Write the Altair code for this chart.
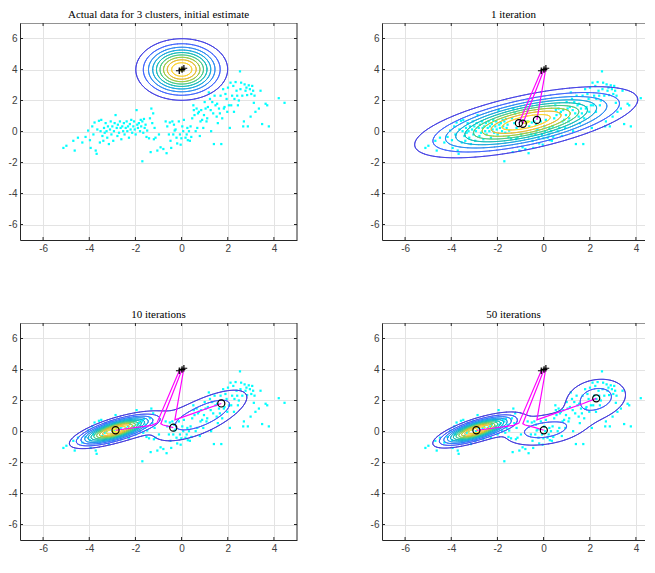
import numpy as np
import pandas as pd
import altair as alt

# ---------------- scatter data (same in every panel) ----------------
data_x = [-5.12,-4.99,-4.69,-4.63,-4.49,-4.30,-4.16,-4.05,-3.97,-3.94,-3.87,-3.82,-3.77,-3.72,-3.68,-3.65,-3.58,-3.54,-3.51,-3.48,
          -3.43,-3.39,-3.36,-3.33,-3.29,-3.25,-3.22,-3.19,-3.15,-3.10,-3.07,-3.04,-3.00,-2.96,-2.93,-2.90,-2.86,-2.81,-2.78,-2.76,
          -2.71,-2.67,-2.64,-2.61,-2.57,-2.53,-2.50,-2.47,-2.42,-2.38,-2.35,-2.32,-2.28,-2.24,-2.21,-2.18,-2.14,-2.09,-2.06,-2.03,
          -1.99,-1.95,-1.92,-1.89,-1.85,-1.80,-1.77,-1.75,-1.70,-1.66,-1.63,-1.60,-1.56,-1.52,-1.49,-1.41,-1.37,-1.34,-1.31,-1.27,
          -1.23,-1.20,-1.17,-1.13,-1.05,-0.98,-0.91,-0.79,-0.69,-0.65,-0.62,-0.55,-0.51,-0.48,-0.45,-0.40,-0.36,-0.33,-0.30,-0.26,
          -0.22,-0.19,-0.12,-0.07,-0.04,-0.01,0.03,0.07,0.10,0.17,0.22,0.25,0.27,0.32,0.36,0.39,0.42,0.46,0.51,0.53,
          0.56,0.61,0.65,0.68,0.71,0.75,0.79,0.82,0.85,0.89,0.94,0.97,1.00,1.04,1.08,1.11,1.14,1.18,1.23,1.26,
          1.28,1.33,1.37,1.40,1.43,1.47,1.52,1.54,1.57,1.62,1.66,1.69,1.72,1.76,1.80,1.83,1.86,1.90,1.95,1.98,
          2.01,2.05,2.09,2.12,2.15,2.19,2.24,2.27,2.29,2.34,2.38,2.41,2.44,2.48,2.53,2.55,2.58,2.63,2.67,2.70,
          2.73,2.77,2.81,2.84,2.87,2.91,2.96,2.99,3.02,3.06,3.10,3.13,3.16,3.20,3.35,3.42,3.49,3.64,3.71,3.78,
          4.21,4.46,-1.70]
data_y = [-1.06,-0.92,-0.60,-1.23,-0.40,-0.71,-0.35,0.06,-0.56,-1.06,0.33,-0.19,0.58,-1.23,-1.44,0.13,0.69,-0.71,0.02,0.75,
          -0.29,-0.60,0.23,-0.08,0.54,0.02,-0.40,0.33,-0.81,0.13,0.65,-0.19,0.33,-0.60,0.02,0.54,1.06,0.23,-0.29,0.44,
          -0.08,0.65,0.23,-0.50,0.33,0.02,0.54,-0.19,0.23,0.65,0.02,0.33,-0.40,0.48,0.13,0.75,-0.08,0.33,0.65,0.13,
          -0.19,1.38,0.44,0.23,0.54,0.02,0.75,0.33,0.65,-0.08,0.81,0.23,0.44,-0.35,0.06,-0.44,0.85,-1.33,1.48,0.54,
          1.17,-0.50,0.23,-0.40,-1.23,-0.19,-1.02,-1.13,0.65,-1.40,0.33,-0.19,0.58,-0.60,-1.06,0.65,-0.19,0.44,0.06,0.13,
          -0.40,-0.77,0.65,-0.19,-0.85,-0.44,0.33,0.02,0.75,-0.40,-0.19,0.23,-0.56,0.02,-0.60,0.33,-0.35,0.85,1.69,1.38,
          1.06,0.02,1.48,0.23,1.17,1.27,-0.29,0.65,1.38,0.75,0.23,1.06,1.90,1.48,0.65,0.85,1.58,2.52,2.10,1.38,
          0.02,1.90,1.17,-0.81,2.31,1.69,0.96,1.79,0.54,1.48,1.17,2.31,-0.81,0.85,2.73,1.48,1.58,2.42,2.10,1.27,
          2.83,1.69,0.23,3.15,1.69,2.31,2.94,1.27,2.10,3.19,2.63,2.31,1.69,2.00,3.88,2.73,3.15,2.31,0.33,0.65,
          3.04,2.63,2.83,2.35,0.33,2.98,2.73,0.96,2.42,2.94,2.63,1.85,2.31,1.27,1.48,2.63,0.48,1.79,1.69,0.33,
          2.15,1.85,-1.92]

# ---------------- panels ----------------
titles = ["Actual data for 3 clusters, initial estimate", "1 iteration", "10 iterations", "50 iterations"]
panel_iter = [0, 1, 10, 50]
x_ticks = [-6, -4, -2, 0, 2, 4]
y_ticks = [-6, -4, -2, 0, 2, 4, 6]

# initial means (+ markers)
start_x = [-0.10, 0.02, 0.10]
start_y = [3.92, 4.00, 4.08]

# mean trajectories: iteration number, x, y for each component
traj_iter = [0, 1, 2, 10, 50]
trajA_x = [-0.10, -1.07, -1.30, -2.86, -2.91]
trajA_y = [3.92, 0.54, 0.40, 0.08, 0.08]
trajB_x = [0.02, -0.90, -0.80, -0.36, 0.01]
trajB_y = [4.00, 0.50, 0.42, 0.25, 0.08]
trajC_x = [0.10, -0.29, -0.20, 1.72, 2.28]
trajC_y = [4.08, 0.75, 0.80, 1.81, 2.14]

# mixture components drawn as contours: weight, mean x, mean y, var x, cov xy, var y
comps_p1 = [(1/3, -0.10, 3.92, 0.85, 0.0, 0.85), (1/3, 0.02, 4.00, 0.85, 0.0, 0.85), (1/3, 0.10, 4.08, 0.85, 0.0, 0.85)]
comps_p2 = [(1/3, -1.07, 0.54, 4.95, 1.48, 1.13), (1/3, -0.90, 0.50, 4.95, 1.48, 1.13), (1/3, -0.29, 0.75, 4.95, 1.48, 1.13)]
comps_p3 = [(0.55, -2.86, 0.08, 0.80, 0.34, 0.28), (0.15, -0.36, 0.25, 2.00, 0.60, 1.00), (0.30, 1.20, 1.28, 1.424, 0.830, 1.039)]
comps_p4 = [(0.46, -2.91, 0.08, 0.72, 0.32, 0.266), (0.27, 0.01, 0.08, 1.50, 0.25, 0.50), (0.27, 2.28, 2.14, 0.85, 0.15, 0.80)]
level_step = [0.0185, 0.0085, 0.022, 0.0206]

# parula colormap stops
parula = [(0.2422,0.1504,0.6603),(0.2706,0.2147,0.8364),(0.2813,0.3006,0.9414),(0.2699,0.3892,0.9906),
          (0.1963,0.4847,0.9892),(0.1687,0.5703,0.9359),(0.1248,0.6459,0.8883),(0.0297,0.7082,0.8163),
          (0.0964,0.7500,0.7120),(0.2161,0.7843,0.5923),(0.3909,0.8029,0.4354),(0.6174,0.7876,0.2612),
          (0.8203,0.7498,0.1535),(0.9728,0.7298,0.2394),(0.9892,0.8136,0.1885),(0.9597,0.9135,0.1423),
          (0.9769,0.9839,0.0805)]
parula_pos = [0,4,8,12,16,20,24,28,32,36,40,44,48,52,56,60,63]


def parula_hex(f):
    p = np.clip(f, 0, 1) * 63
    pos = np.array(parula_pos, float)
    cols = np.array(parula)
    rgb = [np.interp(p, pos, cols[:, k]) for k in range(3)]
    return "#%02x%02x%02x" % tuple(int(round(c * 255)) for c in rgb)


def mixture(X, Y, comps):
    Z = np.zeros_like(X)
    for w, mx, my, sxx, sxy, syy in comps:
        det = sxx * syy - sxy ** 2
        dx, dy = X - mx, Y - my
        q = (syy * dx * dx - 2 * sxy * dx * dy + sxx * dy * dy) / det
        Z += w / (2 * np.pi * np.sqrt(det)) * np.exp(-q / 2)
    return Z


def march(Z, xs, ys, L):
    A = Z >= L
    z00, z10, z01, z11 = Z[:-1, :-1], Z[:-1, 1:], Z[1:, :-1], Z[1:, 1:]
    a00, a10, a01, a11 = A[:-1, :-1], A[:-1, 1:], A[1:, :-1], A[1:, 1:]
    shp = z00.shape
    X0 = np.broadcast_to(xs[:-1][None, :], shp)
    X1 = np.broadcast_to(xs[1:][None, :], shp)
    Y0 = np.broadcast_to(ys[:-1][:, None], shp)
    Y1 = np.broadcast_to(ys[1:][:, None], shp)

    def t(a, b):
        d = b - a
        d = np.where(d == 0, 1e-30, d)
        return (L - a) / d

    m = np.stack([a00 != a10, a10 != a11, a01 != a11, a00 != a01])
    px = np.stack([X0 + t(z00, z10) * (X1 - X0), X1, X0 + t(z01, z11) * (X1 - X0), X0])
    py = np.stack([Y0, Y0 + t(z10, z11) * (Y1 - Y0), Y1, Y0 + t(z00, z01) * (Y1 - Y0)])
    n = m.sum(0)
    out = []
    sel = n == 2
    if sel.any():
        mm = m[:, sel]
        order = np.argsort(~mm, axis=0, kind="stable")
        k = np.arange(mm.shape[1])
        pxs, pys = px[:, sel], py[:, sel]
        out.append(np.stack([pxs[order[0], k], pys[order[0], k], pxs[order[1], k], pys[order[1], k]], 1))
    sel4 = n == 4
    if sel4.any():
        pxs, pys = px[:, sel4], py[:, sel4]
        cen = ((z00 + z10 + z01 + z11) / 4)[sel4] >= L
        same = a00[sel4] == cen
        for i in range(pxs.shape[1]):
            pairs = [(0, 1), (2, 3)] if same[i] else [(0, 3), (1, 2)]
            for a, b in pairs:
                out.append(np.array([[pxs[a, i], pys[a, i], pxs[b, i], pys[b, i]]]))
    if not out:
        return np.zeros((0, 4))
    return np.concatenate(out, 0)


gx = np.arange(-7, 5.0001, 0.05)
gy = np.arange(-4, 7.0001, 0.05)
GX, GY = np.meshgrid(gx, gy)

H = 217
W_LEFT = 277
W_RIGHT = 263
X_MAX_LEFT = 5
X_MAX_RIGHT = -7 + 12 * W_RIGHT / W_LEFT   # same units-per-pixel as the left column
BOX = "#262626"

yscale = alt.Scale(domain=[-7, 7], nice=False, zero=False)
lab = "toString(datum.value)"
xaxis = alt.Axis(values=x_ticks, title=None, labelOverlap=False, labelExpr=lab)
yaxis = alt.Axis(values=y_ticks, title=None, labelOverlap=False, labelExpr=lab)

scatter_df = pd.DataFrame({"x": data_x, "y": data_y})
start_df = pd.DataFrame({"x": start_x, "y": start_y})
xt_df = pd.DataFrame({"v": x_ticks})
yt_df = pd.DataFrame({"v": y_ticks})
all_comps = [comps_p1, comps_p2, comps_p3, comps_p4]


def make_panel(p):
    right = p in (1, 3)
    width = W_RIGHT if right else W_LEFT
    xscale = alt.Scale(domain=[-7, X_MAX_RIGHT if right else X_MAX_LEFT], nice=False, zero=False)
    X = lambda f: alt.X(f, scale=xscale, axis=xaxis)
    Y = lambda f: alt.Y(f, scale=yscale, axis=yaxis)

    base_sc = alt.Chart(scatter_df).mark_square(size=5, color="#00ffff", opacity=1, clip=True).encode(
        x=X("x:Q"), y=Y("y:Q"))
    Z = mixture(GX, GY, all_comps[p])
    zmax = Z.max()
    rows = []
    k = 1
    while level_step[p] * k < zmax:
        L = level_step[p] * k
        seg = march(Z, gx, gy, L)
        col = parula_hex(L / zmax)
        for s in seg:
            rows.append((round(s[0], 3), round(s[1], 3), round(s[2], 3), round(s[3], 3), col))
        k += 1
    cdf = pd.DataFrame(rows, columns=["x", "y", "x2", "y2", "c"])
    cont = alt.Chart(cdf).mark_rule(strokeWidth=1, strokeCap="round", clip=True).encode(
        x=X("x:Q"), y=Y("y:Q"), x2="x2", y2="y2", color=alt.Color("c:N", scale=None))
    layers = [base_sc, cont]
    it = panel_iter[p]
    if it > 0:
        trows = []
        ends = []
        for name, tx, ty in (("A", trajA_x, trajA_y), ("B", trajB_x, trajB_y), ("C", trajC_x, trajC_y)):
            for i, (xx, yy) in enumerate(zip(tx, ty)):
                if traj_iter[i] <= it:
                    trows.append((name, i, xx, yy))
            last = max(i for i in range(len(traj_iter)) if traj_iter[i] <= it)
            ends.append((tx[last], ty[last]))
        tdf = pd.DataFrame(trows, columns=["path", "o", "x", "y"])
        line = alt.Chart(tdf).mark_line(color="#ff00ff", strokeWidth=1.2, clip=True).encode(
            x=X("x:Q"), y=Y("y:Q"), detail="path:N", order="o:Q")
        edf = pd.DataFrame(ends, columns=["x", "y"])
        circ = alt.Chart(edf).mark_point(shape="circle", filled=False, size=50, color="black", strokeWidth=1.2,
                                         opacity=1, clip=True).encode(x=X("x:Q"), y=Y("y:Q"))
        layers += [line, circ]
    plus = alt.Chart(start_df).mark_point(shape="M-1,0L1,0M0,-1L0,1", filled=False, size=45, color="black",
                                          strokeWidth=1.2, opacity=1, clip=True).encode(x=X("x:Q"), y=Y("y:Q"))
    layers.append(plus)

    # box: top edge (and right edge for the left column), inward ticks
    top = alt.Chart(pd.DataFrame({"v": [7]})).mark_rule(color=BOX, strokeWidth=1, clip=True).encode(y=Y("v:Q"))
    layers.append(top)
    tb = alt.Chart(xt_df).mark_tick(orient="vertical", size=6, thickness=1, color=BOX, clip=True, opacity=1)
    layers.append(tb.encode(x=X("v:Q"), y=alt.value(H)))
    layers.append(tb.encode(x=X("v:Q"), y=alt.value(0)))
    lt = alt.Chart(yt_df).mark_tick(orient="horizontal", size=6, thickness=1, color=BOX, clip=True, opacity=1)
    layers.append(lt.encode(y=Y("v:Q"), x=alt.value(0)))
    if not right:
        rgt = alt.Chart(pd.DataFrame({"v": [5]})).mark_rule(color=BOX, strokeWidth=1).encode(x=X("v:Q"))
        layers.append(rgt)
        layers.append(lt.encode(y=Y("v:Q"), x=alt.value(width)))
    return alt.layer(*layers).properties(width=width, height=H, title=titles[p])


row1 = alt.hconcat(make_panel(0), make_panel(1), spacing=72)
row2 = alt.hconcat(make_panel(2), make_panel(3), spacing=72)
chart = alt.vconcat(row1, row2, spacing=55).properties(
    padding={"left": 0, "top": 0, "right": 0, "bottom": 0}).configure_view(
    stroke=None).configure_axis(
    grid=True, gridColor="#e3e3e3", gridWidth=1, domainColor=BOX, ticks=False, tickSize=0,
    labelFont="Liberation Sans", labelFontSize=10, labelColor="#404040",
    labelPadding=3).configure_title(
    font="Liberation Serif", fontSize=11, fontWeight="normal", color="black", offset=3)

chart.save("out.html", embed_options={"renderer": "svg", "actions": False})
